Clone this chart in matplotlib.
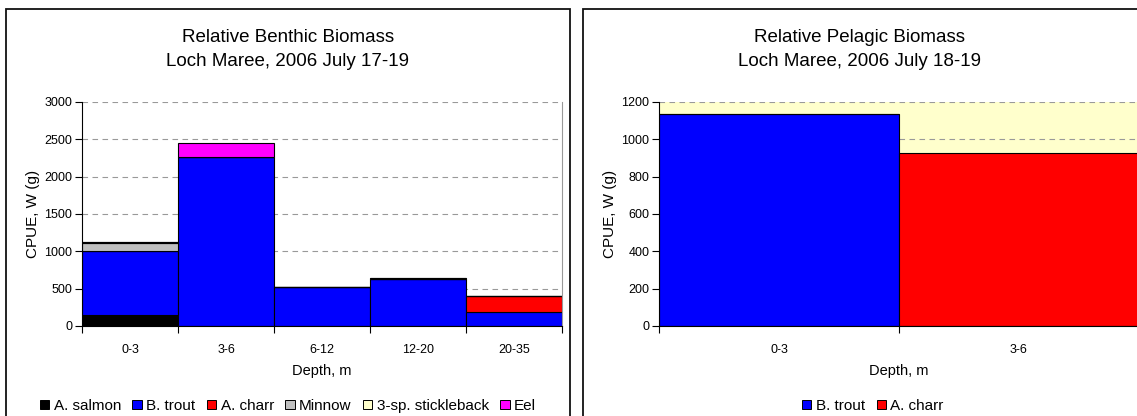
import numpy as np
import matplotlib
matplotlib.use("Agg")
import matplotlib.pyplot as plt
from matplotlib.patches import Rectangle, Patch

plt.rcParams['font.family'] = ['Liberation Sans', 'DejaVu Sans']

# Benthic gill nets, CPUE by depth zone (g)
depths_b = ["0-3", "3-6", "6-12", "12-20", "20-35"]
salmon_b = [145, 0, 0, 0, 0]
trout_b = [855, 2270, 520, 635, 190]
charr_b = [0, 0, 0, 0, 210]
minnow_b = [105, 0, 0, 0, 0]
stickle_b = [22, 0, 0, 6, 0]
eel_b = [0, 180, 0, 0, 0]

# Pelagic nets
depths_p = ["0-3", "3-6"]
trout_p = [1134, 0]
charr_p = [0, 925]

species = ["A. salmon", "B. trout", "A. charr", "Minnow", "3-sp. stickleback", "Eel"]
colours = ["black", "#0000FF", "#FF0000", "#C0C0C0", "#FFFFCC", "#FF00FF"]

W, H = 1137, 416
fig = plt.figure(figsize=(W / 100, H / 100), dpi=100)


def px_axes(x0, y0, x1, y1):
    return fig.add_axes([x0 / W, 1 - y1 / H, (x1 - x0) / W, (y1 - y0) / H])


# panel frames
for x0, x1 in [(6, 570), (583, 1145)]:
    fig.patches.append(Rectangle((x0 / W, -0.1), (x1 - x0) / W, 1.1 - 9 / H,
                                 transform=fig.transFigure, fill=False,
                                 edgecolor="#111111", linewidth=1.3))


def style_axes(ax, labels, ymax, ystep, face="white"):
    n = len(labels)
    ax.set_facecolor(face)
    ax.set_xlim(-0.5, n - 0.5)
    ax.set_ylim(0, ymax)
    ax.set_yticks(np.arange(0, ymax + 1, ystep))
    ax.set_xticks(range(n))
    ax.set_xticklabels(labels, fontsize=9)
    ax.set_xticks(np.arange(-0.5, n, 1), minor=True)
    ax.tick_params(axis="x", which="major", length=0, pad=13)
    ax.tick_params(axis="x", which="minor", length=5, direction="out", width=0.8)
    ax.tick_params(axis="y", length=5, direction="out", width=0.8, labelsize=9, pad=2)
    for y in np.arange(ystep, ymax + 1, ystep):
        ax.axhline(y, color="#999999", linestyle=(0, (5, 4)), linewidth=0.8, zorder=0.5)
    ax.spines["top"].set_visible(False)
    ax.spines["right"].set_color("#999999")
    ax.spines["left"].set_color("black")
    ax.spines["bottom"].set_color("black")
    ax.set_ylabel("CPUE, W (g)", fontsize=11, labelpad=3)
    ax.set_xlabel("Depth, m", fontsize=10.5, labelpad=6)


# Benthic
ax1 = px_axes(82, 102, 562, 326)
x = np.arange(len(depths_b))
bottom = np.zeros(len(depths_b))
for vals, c in zip([salmon_b, trout_b, charr_b, minnow_b, stickle_b, eel_b], colours):
    vals = np.array(vals, dtype=float)
    ax1.bar(x, vals, width=1.0, bottom=bottom, color=c, edgecolor="black",
            linewidth=0.8, zorder=2)
    bottom += vals
style_axes(ax1, depths_b, 3000, 500)
ax1.set_title("Relative Benthic Biomass\nLoch Maree, 2006 July 17-19",
              fontsize=13.5, x=(288 - 82) / 480, y=1.0, pad=26, linespacing=1.5)

# Pelagic
ax2 = px_axes(659, 102, 1139, 326)
xp = np.arange(len(depths_p))
ax2.bar(xp, trout_p, width=1.0, color=colours[1], edgecolor="black", linewidth=0.8, zorder=2)
ax2.bar(xp, charr_p, width=1.0, bottom=trout_p, color=colours[2], edgecolor="black",
        linewidth=0.8, zorder=2)
style_axes(ax2, depths_p, 1200, 200, face="#FFFFCC")
ax2.set_title("Relative Pelagic Biomass\nLoch Maree, 2006 July 18-19",
              fontsize=13.5, x=(860 - 659) / 480, y=1.0, pad=26, linespacing=1.5)

# legends
h1 = [Patch(facecolor=c, edgecolor="black", linewidth=0.7) for c in colours]
fig.legend(h1, species, loc="center", bbox_to_anchor=(288 / W, 1 - 406 / H), ncol=6,
           frameon=False, fontsize=11, handlelength=0.6, handleheight=0.6,
           handletextpad=0.3, columnspacing=0.75, borderaxespad=0)
h2 = [Patch(facecolor=c, edgecolor="black", linewidth=0.7) for c in colours[1:3]]
fig.legend(h2, species[1:3], loc="center", bbox_to_anchor=(873 / W, 1 - 406 / H), ncol=2,
           frameon=False, fontsize=11, handlelength=0.6, handleheight=0.6,
           handletextpad=0.3, columnspacing=0.75, borderaxespad=0)

fig.savefig("out.png", dpi=100)
